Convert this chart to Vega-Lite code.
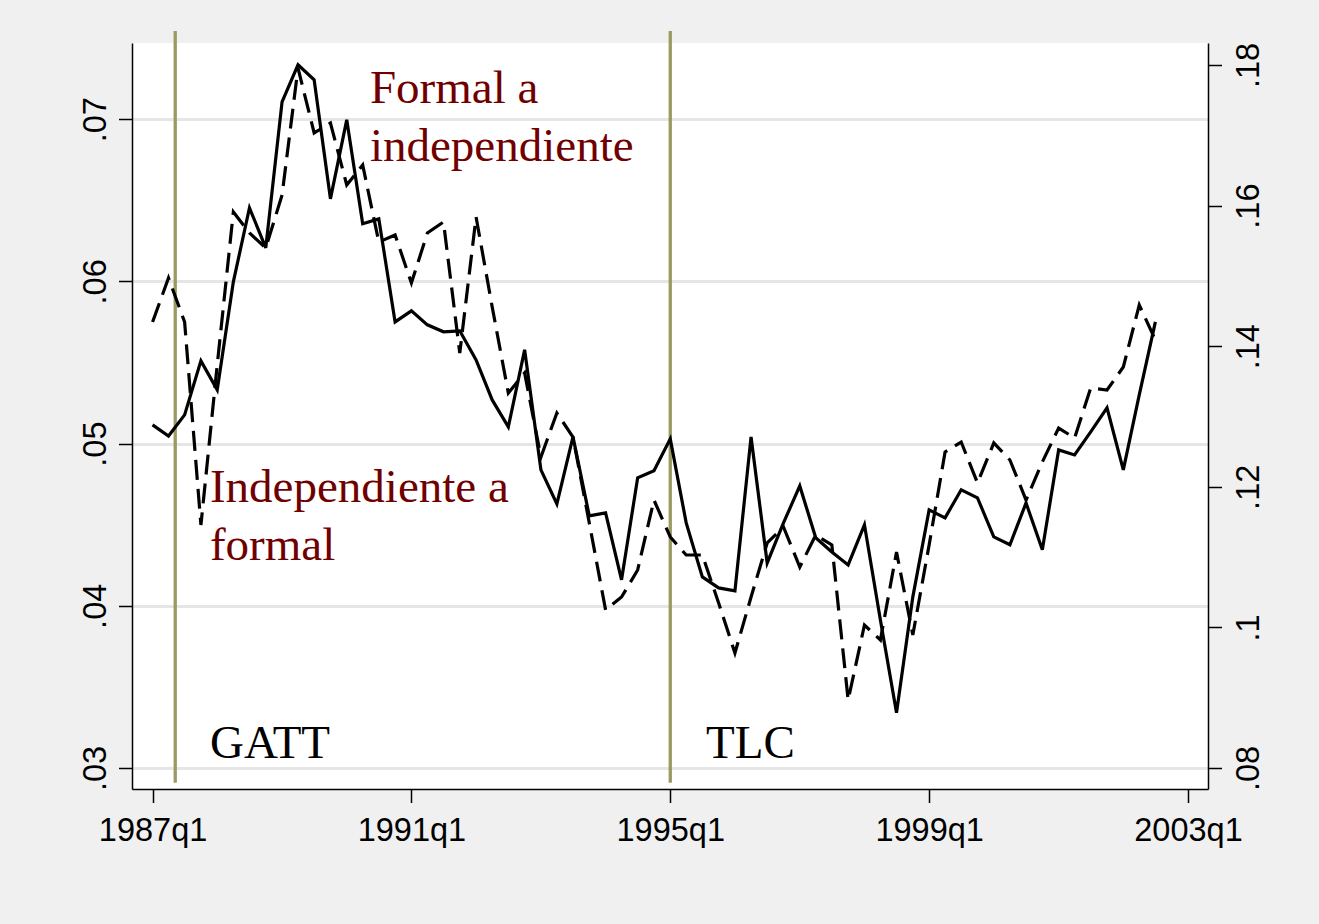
{
  "$schema": "https://vega.github.io/schema/vega-lite/v6.json",
  "width": 1076,
  "height": 746,
  "autosize": {"type": "none"},
  "padding": {"left": 132, "top": 43, "right": 111, "bottom": 135},
  "background": "#f0f0f0",
  "config": {
    "view": {"fill": "white", "stroke": null},
    "axis": {
      "labelFont": "Liberation Sans",
      "labelFontSize": 32.5,
      "labelColor": "black",
      "domainColor": "black",
      "domainWidth": 1.5,
      "tickColor": "black",
      "tickWidth": 1.5,
      "tickSize": 13.5,
      "labelFlush": false,
      "labelOverlap": false,
      "title": null
    }
  },
  "datasets": {
    "series": [
      {"date": "1987-01-01", "izq": 0.05115, "der": 0.14344},
      {"date": "1987-04-01", "izq": 0.05047, "der": 0.14970},
      {"date": "1987-07-01", "izq": 0.05177, "der": 0.14344},
      {"date": "1987-10-01", "izq": 0.05510, "der": 0.11457},
      {"date": "1988-01-01", "izq": 0.05331, "der": 0.13733},
      {"date": "1988-04-01", "izq": 0.05997, "der": 0.15909},
      {"date": "1988-07-01", "izq": 0.06453, "der": 0.15610},
      {"date": "1988-10-01", "izq": 0.06207, "der": 0.15397},
      {"date": "1989-01-01", "izq": 0.07107, "der": 0.16151},
      {"date": "1989-04-01", "izq": 0.07335, "der": 0.17957},
      {"date": "1989-07-01", "izq": 0.07242, "der": 0.17033},
      {"date": "1989-10-01", "izq": 0.06509, "der": 0.17175},
      {"date": "1990-01-01", "izq": 0.06996, "der": 0.16293},
      {"date": "1990-04-01", "izq": 0.06355, "der": 0.16578},
      {"date": "1990-07-01", "izq": 0.06385, "der": 0.15482},
      {"date": "1990-10-01", "izq": 0.05750, "der": 0.15582},
      {"date": "1991-01-01", "izq": 0.05818, "der": 0.14899},
      {"date": "1991-04-01", "izq": 0.05732, "der": 0.15610},
      {"date": "1991-07-01", "izq": 0.05689, "der": 0.15767},
      {"date": "1991-10-01", "izq": 0.05695, "der": 0.13903},
      {"date": "1992-01-01", "izq": 0.05516, "der": 0.15838},
      {"date": "1992-04-01", "izq": 0.05269, "der": 0.14558},
      {"date": "1992-07-01", "izq": 0.05103, "der": 0.13334},
      {"date": "1992-10-01", "izq": 0.05578, "der": 0.13619},
      {"date": "1993-01-01", "izq": 0.04838, "der": 0.12424},
      {"date": "1993-04-01", "izq": 0.04628, "der": 0.13050},
      {"date": "1993-07-01", "izq": 0.05041, "der": 0.12708},
      {"date": "1993-10-01", "izq": 0.04554, "der": 0.11485},
      {"date": "1994-01-01", "izq": 0.04573, "der": 0.10248},
      {"date": "1994-04-01", "izq": 0.04160, "der": 0.10432},
      {"date": "1994-07-01", "izq": 0.04789, "der": 0.10817},
      {"date": "1994-10-01", "izq": 0.04832, "der": 0.11812},
      {"date": "1995-01-01", "izq": 0.05029, "der": 0.11286},
      {"date": "1995-04-01", "izq": 0.04511, "der": 0.11030},
      {"date": "1995-07-01", "izq": 0.04178, "der": 0.11030},
      {"date": "1995-10-01", "izq": 0.04110, "der": 0.10347},
      {"date": "1996-01-01", "izq": 0.04092, "der": 0.09636},
      {"date": "1996-04-01", "izq": 0.05041, "der": 0.10432},
      {"date": "1996-07-01", "izq": 0.04264, "der": 0.11201},
      {"date": "1996-10-01", "izq": 0.04511, "der": 0.11428},
      {"date": "1997-01-01", "izq": 0.04739, "der": 0.10859},
      {"date": "1997-04-01", "izq": 0.04419, "der": 0.11314},
      {"date": "1997-07-01", "izq": 0.04332, "der": 0.11172},
      {"date": "1997-10-01", "izq": 0.04252, "der": 0.08967},
      {"date": "1998-01-01", "izq": 0.04499, "der": 0.10034},
      {"date": "1998-04-01", "izq": 0.03913, "der": 0.09821},
      {"date": "1998-07-01", "izq": 0.03340, "der": 0.11072},
      {"date": "1998-10-01", "izq": 0.04055, "der": 0.09892},
      {"date": "1999-01-01", "izq": 0.04591, "der": 0.11172},
      {"date": "1999-04-01", "izq": 0.04542, "der": 0.12495},
      {"date": "1999-07-01", "izq": 0.04715, "der": 0.12637},
      {"date": "1999-10-01", "izq": 0.04665, "der": 0.12054},
      {"date": "2000-01-01", "izq": 0.04425, "der": 0.12623},
      {"date": "2000-04-01", "izq": 0.04376, "der": 0.12381},
      {"date": "2000-07-01", "izq": 0.04634, "der": 0.11812},
      {"date": "2000-10-01", "izq": 0.04345, "der": 0.12353},
      {"date": "2001-01-01", "izq": 0.04961, "der": 0.12836},
      {"date": "2001-04-01", "izq": 0.04930, "der": 0.12694},
      {"date": "2001-07-01", "izq": 0.05072, "der": 0.13405},
      {"date": "2001-10-01", "izq": 0.05220, "der": 0.13377},
      {"date": "2002-01-01", "izq": 0.04838, "der": 0.13704},
      {"date": "2002-04-01", "izq": 0.05300, "der": 0.14586},
      {"date": "2002-07-01", "izq": 0.05750, "der": 0.14088}
    ],
    "events": [
      {"event": "GATT", "date": "1987-05-09"},
      {"event": "TLC", "date": "1995-01-01"}
    ],
    "notes": [
      {"label": "Formal a", "date": "1990-05-12", "value": 0.071023, "kind": "flujo"},
      {"label": "independiente", "date": "1990-05-12", "value": 0.067448, "kind": "flujo"},
      {"label": "Independiente a", "date": "1987-11-21", "value": 0.046387, "kind": "flujo"},
      {"label": "formal", "date": "1987-11-21", "value": 0.04283, "kind": "flujo"},
      {"label": "GATT", "date": "1987-11-21", "value": 0.030622, "kind": "evento"},
      {"label": "TLC", "date": "1995-07-22", "value": 0.030622, "kind": "evento"}
    ]
  },
  "layer": [
    {
      "layer": [
        {
          "data": {"name": "events"},
          "mark": {"type": "rule", "color": "#9a9a62", "strokeWidth": 3.3},
          "encoding": {
            "x": {
              "field": "date", "type": "temporal",
              "scale": {"type": "utc", "domain": [{"year": 1986, "month": 9, "date": 7, "utc": true}, {"year": 2003, "month": 4, "date": 24, "utc": true}]},
              "axis": {
                "orient": "bottom",
                "grid": false,
                "values": [
                  {"year": 1987, "month": 1, "date": 1, "utc": true},
                  {"year": 1991, "month": 1, "date": 1, "utc": true},
                  {"year": 1995, "month": 1, "date": 1, "utc": true},
                  {"year": 1999, "month": 1, "date": 1, "utc": true},
                  {"year": 2003, "month": 1, "date": 1, "utc": true}
                ],
                "labelExpr": "utcFormat(datum.value, '%Y') + 'q1'",
                "labelPadding": 11.5,
                "labelAngle": 0
              }
            },
            "y": {"datum": 0.029094, "type": "quantitative"},
            "y2": {"datum": 0.07544}
          }
        },
        {
          "data": {"name": "series"},
          "mark": {"type": "line", "color": "black", "strokeWidth": 3.2},
          "encoding": {
            "x": {"field": "date", "type": "temporal"},
            "y": {
              "field": "izq", "type": "quantitative",
              "scale": {"domain": [0.028705, 0.074695], "nice": false, "zero": false},
              "axis": {
                "orient": "left",
                "values": [0.03, 0.04, 0.05, 0.06, 0.07],
                "labelExpr": "replace(format(datum.value, '.2f'), '0.', '.')",
                "labelAngle": -90,
                "labelAlign": "center",
                "labelBaseline": "alphabetic",
                "labelPadding": 13.5,
                "grid": true,
                "gridColor": "#e6e6e6",
                "gridWidth": 3
              }
            }
          }
        },
        {
          "data": {"name": "notes"},
          "mark": {"type": "text", "align": "left", "baseline": "alphabetic", "font": "Liberation Serif", "fontSize": 47},
          "encoding": {
            "x": {"field": "date", "type": "temporal"},
            "y": {"field": "value", "type": "quantitative"},
            "text": {"field": "label"},
            "color": {"field": "kind", "type": "nominal", "scale": {"domain": ["flujo", "evento"], "range": ["#700000", "black"]}, "legend": null}
          }
        }
      ]
    },
    {
      "data": {"name": "series"},
      "mark": {"type": "line", "color": "black", "strokeWidth": 3.2, "strokeDash": [20, 9]},
      "encoding": {
        "x": {"field": "date", "type": "temporal", "scale": {"type": "utc", "domain": [{"year": 1986, "month": 9, "date": 7, "utc": true}, {"year": 2003, "month": 4, "date": 24, "utc": true}]}},
        "y": {
          "field": "der", "type": "quantitative",
          "scale": {"domain": [0.077013, 0.18313], "nice": false, "zero": false},
          "axis": {
            "orient": "right",
            "values": [0.08, 0.1, 0.12, 0.14, 0.16, 0.18],
            "labelExpr": "replace(format(datum.value, '~g'), '0.', '.')",
            "labelAngle": -90,
            "labelAlign": "center",
            "labelBaseline": "top",
            "labelPadding": 11,
            "grid": false
          }
        }
      }
    }
  ],
  "resolve": {"scale": {"y": "independent"}}
}
